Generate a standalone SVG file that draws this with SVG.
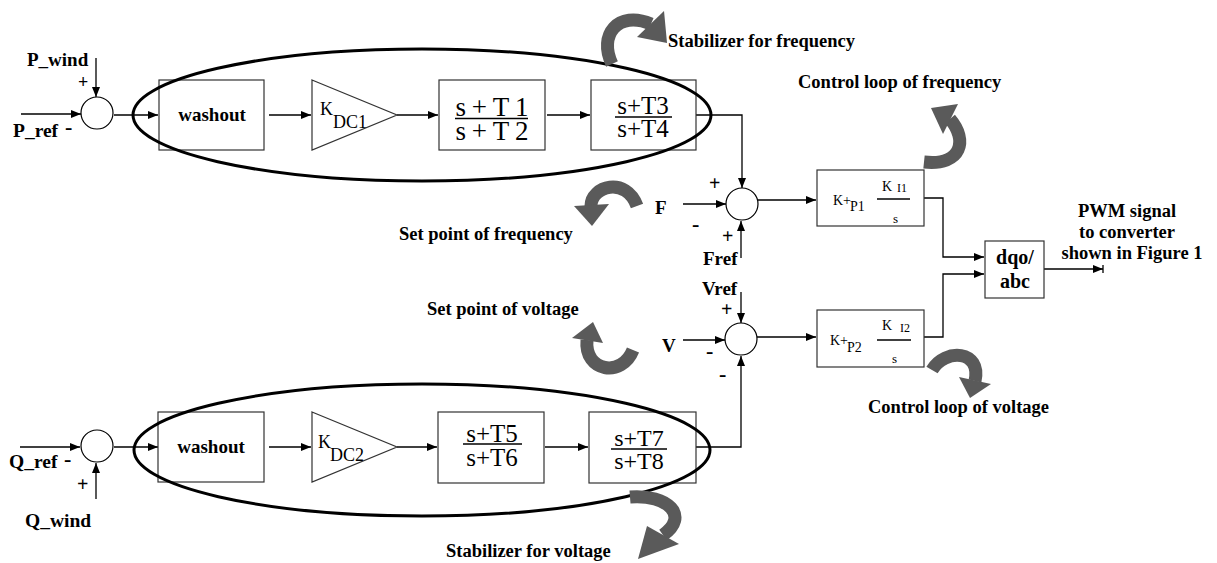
<svg xmlns="http://www.w3.org/2000/svg" width="1217" height="563" viewBox="0 0 1217 563">
<style>
.b{font-family:"Liberation Serif","Times New Roman","DejaVu Serif","Noto Serif",serif;font-weight:bold;fill:#000}
.r{font-family:"Liberation Serif","Times New Roman","DejaVu Serif","Noto Serif",serif;font-weight:normal;fill:#000}
.box{fill:#fff;stroke:#333;stroke-width:1.2}
.sum{fill:#fff;stroke:#000;stroke-width:1.2}
.ln{fill:none;stroke:#000;stroke-width:1.3}
.ell{fill:none;stroke:#000;stroke-width:3}
.ca{fill:none;stroke:#5a5a5a;stroke-width:13}
.ch{fill:#5a5a5a}
.lbl{font-size:18.5px}
</style>
<defs>
<marker id="ah" markerUnits="userSpaceOnUse" markerWidth="10" markerHeight="8" refX="10" refY="4" orient="auto">
<path d="M0,0 L10,4 L0,8 z" fill="#000"/>
</marker>
</defs>
<rect width="1217" height="563" fill="#fff"/>

<g id="connectors">
<path class="ln" d="M96 58 V97" marker-end="url(#ah)"/>
<path class="ln" d="M21 114 H81" marker-end="url(#ah)"/>
<path class="ln" d="M114 115 H158" marker-end="url(#ah)"/>
<path class="ln" d="M269 115 H311" marker-end="url(#ah)"/>
<path class="ln" d="M397 115 H438" marker-end="url(#ah)"/>
<path class="ln" d="M547 115 H590" marker-end="url(#ah)"/>
<path class="ln" d="M696 115 H742 V188" marker-end="url(#ah)"/>
<path class="ln" d="M683 204 H726" marker-end="url(#ah)"/>
<path class="ln" d="M741 258 V221" marker-end="url(#ah)"/>
<path class="ln" d="M758 200 H816" marker-end="url(#ah)"/>
<path class="ln" d="M924 198 H943 V257 H984" marker-end="url(#ah)"/>
<path class="ln" d="M924 337 H943 V274 H984" marker-end="url(#ah)"/>
<path class="ln" d="M1044 269 H1103" marker-end="url(#ah)"/>
<path class="ln" d="M1103 265 V273"/>
<path class="ln" d="M741 292 V323" marker-end="url(#ah)"/>
<path class="ln" d="M683 340 H725" marker-end="url(#ah)"/>
<path class="ln" d="M757 337 H816" marker-end="url(#ah)"/>
<path class="ln" d="M696 447 H741 V356" marker-end="url(#ah)"/>
<path class="ln" d="M20 447 H80" marker-end="url(#ah)"/>
<path class="ln" d="M96 499 V463" marker-end="url(#ah)"/>
<path class="ln" d="M114 447 H158" marker-end="url(#ah)"/>
<path class="ln" d="M269 447 H311" marker-end="url(#ah)"/>
<path class="ln" d="M397 447 H437" marker-end="url(#ah)"/>
<path class="ln" d="M545 447 H588" marker-end="url(#ah)"/>
</g>

<g id="sum1"><circle class="sum" cx="97" cy="113" r="16"/></g>
<g id="washout1"><rect class="box" x="159" y="80" width="105" height="70"/><text class="b" x="212" y="121" font-size="19" text-anchor="middle">washout</text></g>
<g id="gain1"><path class="box" d="M312 80 L397 115 L312 150 z"/><text class="r" x="320" y="115" font-size="18">K<tspan x="333" y="128">DC1</tspan></text></g>
<g id="lead1"><rect class="box" x="439" y="80" width="106" height="70"/>
<text class="r" font-size="27" text-anchor="middle"><tspan x="492" y="116" textLength="73" lengthAdjust="spacing">s+T1</tspan><tspan x="492" y="140" textLength="73" lengthAdjust="spacing">s+T2</tspan></text>
<line x1="455" y1="118.5" x2="528" y2="118.5" stroke="#000" stroke-width="1.5"/></g>
<g id="lead2"><rect class="box" x="591" y="80" width="105" height="70"/>
<text class="r" font-size="25" text-anchor="middle"><tspan x="643" y="114">s+T3</tspan><tspan x="643" y="137">s+T4</tspan></text>
<line x1="615" y1="117" x2="672" y2="117" stroke="#000" stroke-width="1.5"/></g>
<ellipse id="stab-freq-ellipse" class="ell" cx="422" cy="115" rx="289" ry="66"/>

<g id="sumF"><circle class="sum" cx="742" cy="204" r="16"/></g>
<g id="pi1"><rect class="box" x="817" y="170" width="107" height="56"/>
<text class="r" x="833" y="205" font-size="14">K+</text><text class="r" x="850" y="211" font-size="14">P1</text>
<text class="r" x="882" y="191" font-size="14">K</text><text class="r" x="897" y="192" font-size="12">I1</text>
<line x1="877" y1="199" x2="910" y2="199" stroke="#000" stroke-width="1.3"/>
<text class="r" x="893" y="223" font-size="13">s</text></g>
<g id="pi2"><rect class="box" x="817" y="310" width="107" height="57"/>
<text class="r" x="830" y="345" font-size="14">K+</text><text class="r" x="847" y="352" font-size="14">P2</text>
<text class="r" x="882" y="330" font-size="14">K</text><text class="r" x="900" y="332" font-size="12">I2</text>
<line x1="877" y1="340" x2="911" y2="340" stroke="#000" stroke-width="1.3"/>
<text class="r" x="892" y="363" font-size="13">s</text></g>
<g id="dqo"><rect class="box" x="985" y="241" width="59" height="57"/>
<text class="b" font-size="20" text-anchor="middle"><tspan x="1015" y="264">dqo/</tspan><tspan x="1015" y="288">abc</tspan></text></g>
<g id="sumV"><circle class="sum" cx="741" cy="339" r="16"/></g>

<g id="sum2"><circle class="sum" cx="97" cy="446" r="16"/></g>
<g id="washout2"><rect class="box" x="158" y="412" width="106" height="70"/><text class="b" x="211" y="453" font-size="19" text-anchor="middle">washout</text></g>
<g id="gain2"><path class="box" d="M312 412 L397 447 L312 482 z"/><text class="r" x="318" y="448" font-size="18">K<tspan x="330" y="461">DC2</tspan></text></g>
<g id="lead3"><rect class="box" x="438" y="412" width="106" height="71"/>
<text class="r" font-size="25" text-anchor="middle"><tspan x="492" y="442">s+T5</tspan><tspan x="492" y="466">s+T6</tspan></text>
<line x1="463" y1="444" x2="522" y2="444" stroke="#000" stroke-width="1.5"/></g>
<g id="lead4"><rect class="box" x="589" y="412" width="107" height="71"/>
<text class="r" font-size="24" text-anchor="middle"><tspan x="639" y="446">s+T7</tspan><tspan x="639" y="469">s+T8</tspan></text>
<line x1="611" y1="449" x2="667" y2="449" stroke="#000" stroke-width="1.5"/></g>
<ellipse id="stab-volt-ellipse" class="ell" cx="422" cy="450" rx="288" ry="66"/>

<g id="labels">
<text class="b" x="27" y="66" font-size="19">P_wind</text>
<text class="b" x="78" y="88" font-size="18">+</text>
<text class="b" x="13" y="137" font-size="19.5">P_ref</text>
<text class="b" x="65" y="134" font-size="22">-</text>
<text class="b" x="709" y="190" font-size="20">+</text>
<text class="b" x="655" y="214" font-size="19">F</text>
<text class="b" x="692" y="231" font-size="22">-</text>
<text class="b" x="722" y="243" font-size="20">+</text>
<text class="b" x="703" y="265" font-size="19">Fref</text>
<text class="b" x="702" y="295" font-size="19">Vref</text>
<text class="b" x="721" y="316" font-size="20">+</text>
<text class="b" x="662" y="352" font-size="19">V</text>
<text class="b" x="706" y="358" font-size="22">-</text>
<text class="b" x="719" y="381" font-size="22">-</text>
<text class="b" x="9" y="468" font-size="19.5">Q_ref</text>
<text class="b" x="64" y="466" font-size="22">-</text>
<text class="b" x="77" y="491" font-size="20">+</text>
<text class="b" x="25" y="527" font-size="19.5">Q_wind</text>
<text class="b" font-size="18.5" text-anchor="middle"><tspan x="1127" y="217">PWM signal</tspan><tspan x="1127" y="238">to converter</tspan><tspan x="1132" y="259">shown in Figure 1</tspan></text>
<text class="b lbl" x="668" y="47">Stabilizer for frequency</text>
<text class="b lbl" x="798" y="88">Control loop of frequency</text>
<text class="b lbl" x="399" y="240">Set point of frequency</text>
<text class="b lbl" x="427" y="315">Set point of voltage</text>
<text class="b lbl" x="868" y="413">Control loop of voltage</text>
<text class="b lbl" x="446" y="557">Stabilizer for voltage</text>
</g>

<g id="curved-arrows">
<path class="ca" d="M612 64 C598 35 618 10 651 24"/><polygon class="ch" points="667,43 664,11 637,37"/>
<path class="ca" d="M950 119 C968 140 962 166 924 162"/><polygon class="ch" points="931,108 958,104 943,134"/>
<path class="ca" d="M591 206 C591 186 626 176 637 206"/><polygon class="ch" points="592,226 574,206 609,204"/>
<path class="ca" d="M587 340 C584 372 622 378 633 350"/><polygon class="ch" points="593,322 572,338 603,343"/>
<path class="ca" d="M932 370 C945 348 982 350 975 381"/><polygon class="ch" points="970,398 959,377 991,384"/>
<path class="ca" d="M630 497 C668 494 690 516 663 535"/><polygon class="ch" points="638,559 647,526 679,544"/>
</g>
</svg>
